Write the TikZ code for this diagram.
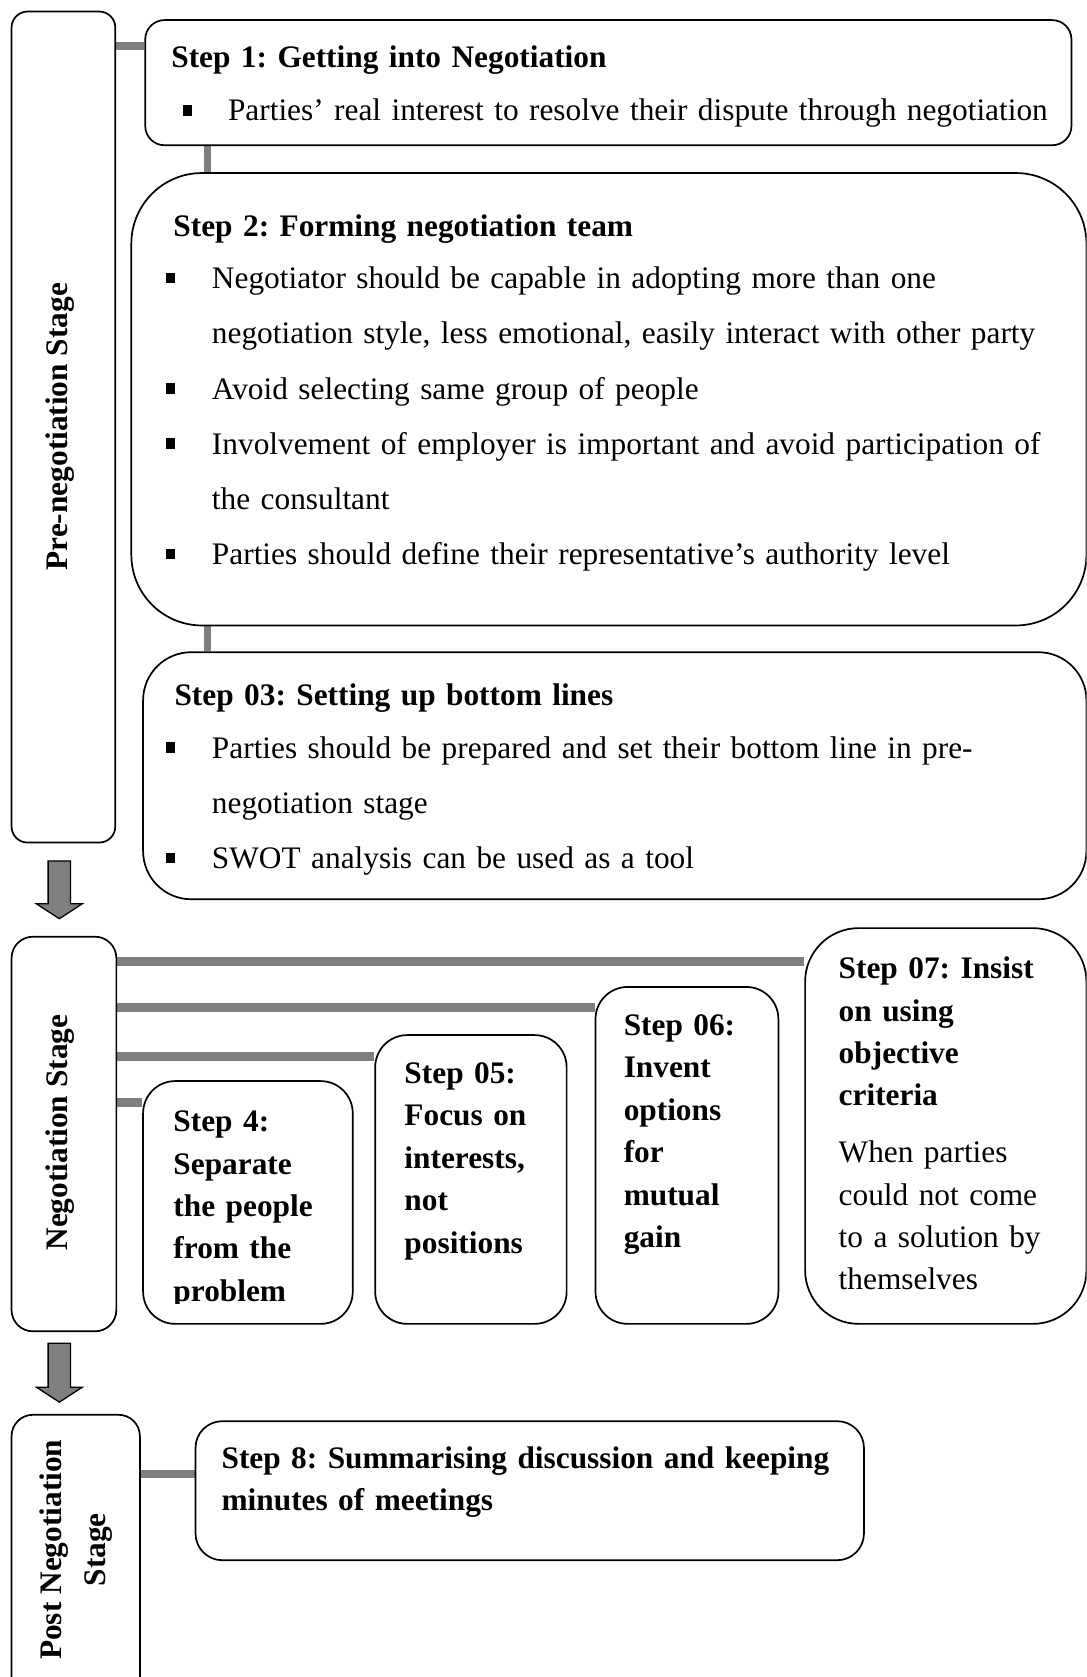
\documentclass[tikz,border=0pt]{standalone}
\usepackage{fontspec}
\setmainfont{Liberation Serif}
\usetikzlibrary{backgrounds,calc}
\definecolor{conngray}{HTML}{7F7F7F}
\frenchspacing
\newcommand\bsqitem{\hangindent=43pt\hangafter=1\noindent\makebox[43pt][l]{\rule[5pt]{8pt}{10pt}}}
\tikzset{
  box/.style={draw, line width=1.6pt, fill=white, inner sep=0pt, anchor=north west},
  conn/.style={draw=conngray, line width=8pt},
  vconn/.style={draw=conngray, line width=7pt},
  blockarrow/.style={draw=black, line width=1.2pt, fill=conngray},
  boldtxt/.style={anchor=base west, inner sep=0pt, align=left, text width=#1,
     font=\fontsize{29.3}{39.7}\selectfont\bfseries},
  normtxt/.style={anchor=base west, inner sep=0pt, align=left, text width=#1,
     font=\fontsize{29.3}{39.7}\selectfont},
  listtxt/.style={anchor=base west, inner sep=0pt, align=left, text width=#1,
     font=\fontsize{29.3}{51.6}\selectfont},
  stagetxt/.style={rotate=90, inner sep=0pt, align=center,
     font=\fontsize{29.3}{41}\selectfont\bfseries},
}
\begin{document}
\begin{tikzpicture}[x=1pt,y=-1pt]
\useasboundingbox (0,0) rectangle (1016,1568);
\clip (0,0) rectangle (1016,1568);

% ---------- boxes ----------
\node[box, rounded corners=15pt, minimum width=97pt, minimum height=777pt] (pre) at (10,10) {};
\node[box, rounded corners=18pt, minimum width=866pt, minimum height=117pt] (s1) at (135,18) {};
\node[box, rounded corners=66pt, minimum width=893pt, minimum height=423pt] (s2) at (122,161) {};
\node[box, rounded corners=45pt, minimum width=882pt, minimum height=231pt] (s3) at (133,609) {};
\node[box, rounded corners=20pt, minimum width=98pt, minimum height=369pt] (neg) at (10,875) {};
\node[box, rounded corners=30pt, minimum width=196pt, minimum height=227pt] (s4) at (133,1010) {};
\node[box, rounded corners=30pt, minimum width=179pt, minimum height=270pt] (s5) at (350,967) {};
\node[box, rounded corners=30pt, minimum width=171pt, minimum height=315pt] (s6) at (556,922) {};
\node[box, rounded corners=50pt, minimum width=263pt, minimum height=370pt] (s7) at (752,867) {};
\node[box, rounded corners=20pt, minimum width=120pt, minimum height=280pt] (post) at (10,1322) {};
\node[box, rounded corners=25pt, minimum width=625pt, minimum height=130pt] (s8) at (182,1328) {};

% ---------- connectors ----------
\begin{scope}[on background layer]
\draw[conn] (pre.east |- 0,43) -- (s1.west |- 0,43);
\draw[vconn] (s1.south -| 194,0) -- (s2.north -| 194,0);
\draw[vconn] (s2.south -| 194,0) -- (s3.north -| 194,0);
\draw[conn] (neg.east |- 0,899) -- (s7.west |- 0,899);
\draw[conn] (neg.east |- 0,942) -- (s6.west |- 0,942);
\draw[conn] (neg.east |- 0,988) -- (s5.west |- 0,988);
\draw[conn] (neg.east |- 0,1031) -- (s4.west |- 0,1031);
\draw[conn] (post.east |- 0,1378) -- (s8.west |- 0,1378);
\end{scope}

% ---------- block arrows ----------
\draw[blockarrow] (45,805) -- (66,805) -- (66,845) -- (77,845) -- (55.5,859)
  -- (34,845) -- (45,845) -- cycle;
\draw[blockarrow] (45,1256) -- (66,1256) -- (66,1297) -- (77,1297) -- (55.5,1311)
  -- (34,1297) -- (45,1297) -- cycle;

% ---------- stage labels ----------
\node[stagetxt] (preT) at (56,399) {Pre-negotiation Stage};
\node[stagetxt] (negT) at (56,1059) {Negotiation Stage};
\node[stagetxt] (postT) at (71,1449) {Post Negotiation\\Stage};

% ---------- step 1 ----------
\node[boldtxt=830pt] (t1) at (160,63) {Step 1: Getting into Negotiation};
\node[normtxt=850pt] (t1b) at (171,113) {\hangindent=42pt\hangafter=1\noindent\makebox[42pt][l]{\rule[5pt]{8pt}{10pt}}Parties’ real interest to resolve their dispute through negotiation};

% ---------- step 2 ----------
\node[boldtxt=830pt] (t2) at (162,221) {Step 2: Forming negotiation team};
\node[listtxt=855pt] (t2b) at (155,270) {%
\bsqitem Negotiator should be capable in adopting more than one\newline negotiation style, less emotional, easily interact with other party\par
\bsqitem Avoid selecting same group of people\par
\bsqitem Involvement of employer is important and avoid participation of\newline the consultant\par
\bsqitem Parties should define their representative’s authority level};

% ---------- step 3 ----------
\node[boldtxt=830pt] (t3) at (163,660) {Step 03: Setting up bottom lines};
\node[listtxt=855pt] (t3b) at (155,709) {%
\bsqitem Parties should be prepared and set their bottom line in pre-\newline negotiation stage\par
\bsqitem SWOT analysis can be used as a tool};

% ---------- steps 4-7 ----------
\begin{scope}
\clip (140,1000) rectangle (325,1219);
\node[boldtxt=165pt] (t4) at (162,1058) {Step 4:\\Separate\\the people\\from the\\problem};
\end{scope}
\node[boldtxt=150pt] (t5) at (378,1013) {Step 05:\\Focus on\\interests,\\not\\positions};
\node[boldtxt=140pt] (t6) at (583,968) {Step 06:\\Invent\\options\\for\\mutual\\gain};
\node[boldtxt=225pt] (t7) at (784,915) {Step 07: Insist\\on using\\objective\\criteria};
\node[normtxt=225pt] (t7b) at (784,1087) {When parties\\could not come\\to a solution by\\themselves};

% ---------- step 8 ----------
\node[boldtxt=600pt] (t8) at (207,1373) {Step 8: Summarising discussion and keeping\\minutes of meetings};
\end{tikzpicture}
\end{document}
